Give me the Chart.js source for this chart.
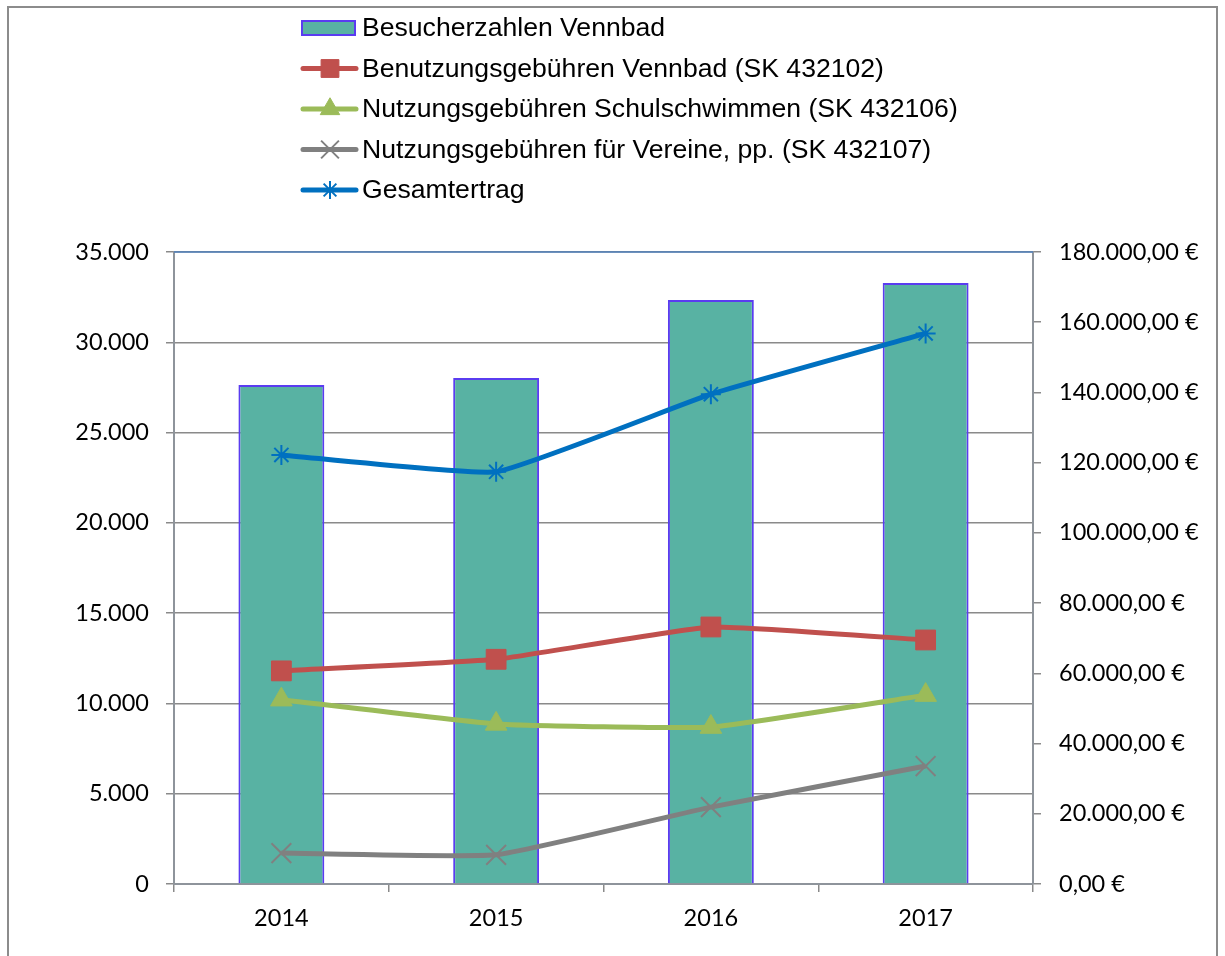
<!DOCTYPE html>
<html>
<head>
<meta charset="utf-8">
<script src="https://cdn.jsdelivr.net/npm/chart.js"></script>
<style>
  body { margin: 0; background: #fff; }
  canvas { display: block; }
</style>
</head>
<body>
<canvas id="chart" width="1225" height="956"></canvas>
<script>
// ---- data ----
var years = ['2014', '2015', '2016', '2017'];
var besucher = [27630, 28020, 32340, 33280];        // left axis
var benutzung = [60700, 64000, 73200, 69500];      // right axis (EUR)
var schulschwimmen = [52500, 45600, 44700, 53800];
var vereine = [8800, 8300, 21900, 33600];
var gesamt = [122200, 117400, 139500, 156800];

var leftTicks = { min: 0, max: 35000, step: 5000 };
var rightTicks = { min: 0, max: 180000, step: 20000 };

var gridColor = '#8a8a8a';
var axisColor = '#8e949b';
var tickFont = { family: 'Lato, "Open Sans", sans-serif', size: 23.5 };
var smooth = 0.12;

function fmtDE(n, dec) {
    var s = n.toFixed(dec);
    var parts = s.split('.');
    var i = parts[0].replace(/\B(?=(\d{3})+(?!\d))/g, '.');
    return parts[1] ? i + ',' + parts[1] : i;
}

// outer frame, blue top edge of plot, vertical legend
var decoPlugin = {
    id: 'deco',
    afterDraw: function(chart) {
        var ctx = chart.ctx;
        var area = chart.chartArea;
        ctx.save();
        ctx.strokeStyle = '#8c8c8c';
        ctx.lineWidth = 2;
        ctx.strokeRect(8, 7, 1209, 980);

        ctx.strokeStyle = '#4f81bd';
        ctx.lineWidth = 1.5;
        ctx.beginPath();
        ctx.moveTo(area.left, area.top);
        ctx.lineTo(area.right, area.top);
        ctx.stroke();

        var ds = chart.data.datasets;
        ctx.font = '26.6px "Liberation Sans", Arial, sans-serif';
        ctx.textBaseline = 'middle';
        ctx.textAlign = 'left';
        for (var k = 0; k < ds.length; k++) {
            var d = ds[k];
            var y = 28 + k * 40.5;
            if (d.type === 'bar' || !d.type) {
                ctx.fillStyle = d.backgroundColor;
                ctx.fillRect(302, y - 7, 53, 14);
                ctx.strokeStyle = d.borderColor;
                ctx.lineWidth = 2;
                ctx.strokeRect(302, y - 7, 53, 14);
            } else {
                ctx.strokeStyle = d.borderColor;
                ctx.lineWidth = 5;
                ctx.lineCap = 'round';
                ctx.beginPath();
                ctx.moveTo(303, y);
                ctx.lineTo(356, y);
                ctx.stroke();
                ctx.lineCap = 'butt';
                ctx.fillStyle = d.pointBackgroundColor;
                ctx.strokeStyle = d.pointBorderColor;
                ctx.lineWidth = d.pointBorderWidth;
                Chart.helpers.drawPoint(ctx, {
                    pointStyle: d.pointStyle,
                    radius: d.pointRadius * 0.9,
                    rotation: 0,
                    borderWidth: d.pointBorderWidth
                }, 330, y);
            }
            ctx.fillStyle = '#000';
            ctx.fillText(d.label, 362, y + 1);
        }
        ctx.restore();
    }
};

var ctx = document.getElementById('chart').getContext('2d');
var myChart = new Chart(ctx, {
    type: 'bar',
    data: {
        labels: years,
        datasets: [{
            type: 'bar',
            label: 'Besucherzahlen Vennbad',
            data: besucher,
            yAxisID: 'y',
            backgroundColor: '#58b2a3',
            borderColor: '#5a3cf0',
            borderWidth: 2,
            categoryPercentage: 1,
            barPercentage: 0.4,
            order: 1
        }, {
            type: 'line',
            label: 'Benutzungsgebühren Vennbad (SK 432102)',
            data: benutzung,
            yAxisID: 'y1',
            borderColor: '#c0504d',
            borderWidth: 5,
            tension: smooth,
            pointStyle: 'rect',
            pointRadius: 14,
            pointBackgroundColor: '#c0504d',
            pointBorderColor: '#c0504d',
            pointBorderWidth: 1,
            order: 0
        }, {
            type: 'line',
            label: 'Nutzungsgebühren Schulschwimmen (SK 432106)',
            data: schulschwimmen,
            yAxisID: 'y1',
            borderColor: '#9bbb59',
            borderWidth: 5,
            tension: smooth,
            pointStyle: 'triangle',
            pointRadius: 12.5,
            pointBackgroundColor: '#9bbb59',
            pointBorderColor: '#9bbb59',
            pointBorderWidth: 1,
            order: 0
        }, {
            type: 'line',
            label: 'Nutzungsgebühren für Vereine, pp. (SK 432107)',
            data: vereine,
            yAxisID: 'y1',
            borderColor: '#808080',
            borderWidth: 5,
            tension: smooth,
            pointStyle: 'crossRot',
            pointRadius: 14,
            pointBackgroundColor: '#808080',
            pointBorderColor: '#808080',
            pointBorderWidth: 2,
            order: 0
        }, {
            type: 'line',
            label: 'Gesamtertrag',
            data: gesamt,
            yAxisID: 'y1',
            borderColor: '#0070c0',
            borderWidth: 5,
            tension: smooth,
            pointStyle: 'star',
            pointRadius: 10,
            pointBackgroundColor: '#0070c0',
            pointBorderColor: '#0070c0',
            pointBorderWidth: 2,
            order: 0
        }]
    },
    options: {
        responsive: false,
        animation: false,
        layout: { padding: { top: 252, left: 0, right: 0, bottom: 0 } },
        plugins: {
            legend: { display: false },
            tooltip: { enabled: false }
        },
        scales: {
            x: {
                offset: true,
                grid: { offset: true, drawOnChartArea: false, color: gridColor, lineWidth: 1.5, tickLength: 8 },
                border: { color: axisColor, width: 2 },
                ticks: { font: tickFont, color: '#000', padding: 12 },
                afterFit: function(s) { s.height = 72; }
            },
            y: {
                position: 'left',
                min: leftTicks.min,
                max: leftTicks.max,
                ticks: {
                    stepSize: leftTicks.step,
                    font: tickFont,
                    color: '#000',
                    padding: 17,
                    callback: function(v) { return fmtDE(v, 0); }
                },
                grid: { color: gridColor, lineWidth: 1.5, tickLength: 8 },
                border: { color: axisColor, width: 2 },
                afterFit: function(s) { s.width = 174; }
            },
            y1: {
                position: 'right',
                min: rightTicks.min,
                max: rightTicks.max,
                ticks: {
                    stepSize: rightTicks.step,
                    font: tickFont,
                    color: '#000',
                    padding: 18,
                    callback: function(v) { return fmtDE(v, 2) + ' €'; }
                },
                grid: { drawOnChartArea: false, color: gridColor, lineWidth: 1.5, tickLength: 8 },
                border: { color: axisColor, width: 2 },
                afterFit: function(s) { s.width = 192; }
            }
        }
    },
    plugins: [decoPlugin]
});
</script>
</body>
</html>
